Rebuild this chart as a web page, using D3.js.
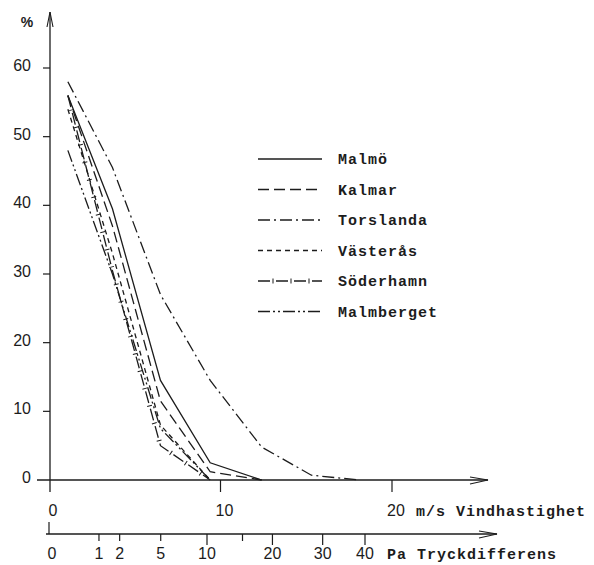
<!DOCTYPE html>
<meta charset="utf-8">
<head>
<style>
  body { margin: 0; background: #fff; }
  text { fill: #1c1c1c; }
  .num { font-family: 'Liberation Sans', Arial, sans-serif; font-size: 16px; }
  .mono { font-family: 'Liberation Mono', monospace; font-size: 15px; font-weight: bold; letter-spacing: 1px; }
</style>
</head>
<body>
<div id="chart"></div>
<script src="https://cdn.jsdelivr.net/npm/d3@7"></script>
<script>

// wind speed (m/s) where the curves break
var windSpeed = [1.1, 3.7, 6.5, 9.4, 12.4, 15.3, 18.1];

// share of time (%) per station
var malmo      = [56, 39.5, 14.5, 2.5, 0];
var kalmar     = [56, 37, 11.5, 1.2, 0];
var torslanda  = [58, 45.5, 27, 14.5, 4.8, 0.7, 0];
var vasteras   = [54, 33, 8, 0];
var soderhamn  = [56, 30.5, 5, 0];
var malmberget = [48, 30, 7.5, 0];

var stations = ["Malmö", "Kalmar", "Torslanda", "Västerås", "Söderhamn", "Malmberget"];
var stationValues = [malmo, kalmar, torslanda, vasteras, soderhamn, malmberget];
var dashes = ["none", "11,5", "12,4,2,4", "5,4", "12,6", "12,3,2,3,2,3"];

var yTicks = [0, 10, 20, 30, 40, 50, 60];
var windTicks = [0, 10, 20];
var pressureTicks = [0, 1, 2, 5, 10, 15, 20, 30, 40];
var pressureLabels = ["0", "1", "2", "5", "10", "", "20", "30", "40"];

var width = 594, height = 565;

var svg = d3.select("#chart")
  .append("svg")
    .attr("width", width)
    .attr("height", height);

// scales
var x = d3.scaleLinear().domain([0, 20]).range([49, 392]);
var y = d3.scaleLinear().domain([0, 60]).range([480, 68]);
// pressure difference grows with the square of wind speed
var xp = d3.scaleSqrt().domain([0, 40]).range([49, 365]);

var ink = "#1c1c1c";

// y axis + arrow
svg.append("line")
  .attr("x1", 50).attr("x2", 50)
  .attr("y1", 492).attr("y2", 12)
  .attr("stroke", ink).attr("stroke-width", 1.3);
svg.append("path")
  .attr("d", "M47,27 L50,12 L53,27")
  .attr("fill", "none").attr("stroke", ink).attr("stroke-width", 1.1);

svg.selectAll(".ytick")
  .data(yTicks.filter(function(d) { return d > 0; }))
  .enter().append("line")
    .attr("x1", 43).attr("x2", 50)
    .attr("y1", function(d) { return y(d); })
    .attr("y2", function(d) { return y(d); })
    .attr("stroke", ink).attr("stroke-width", 1.2);

svg.selectAll(".ylab")
  .data(yTicks)
  .enter().append("text")
    .attr("class", "num")
    .attr("x", 31)
    .attr("y", function(d) { return y(d) + 3; })
    .attr("text-anchor", "end")
    .text(function(d) { return d; });

svg.append("text")
  .attr("x", 27).attr("y", 27)
  .attr("text-anchor", "middle")
  .style("font-family", "'Liberation Sans', sans-serif")
  .style("font-size", "14px")
  .style("font-weight", "bold")
  .text("%");

// wind speed axis
svg.append("line")
  .attr("x1", 37).attr("x2", 488)
  .attr("y1", y(0)).attr("y2", y(0))
  .attr("stroke", ink).attr("stroke-width", 1.3);
svg.append("path")
  .attr("d", "M470,477 L488,480 L470,484")
  .attr("fill", "none").attr("stroke", ink).attr("stroke-width", 1.1);

svg.selectAll(".xtick")
  .data(windTicks.filter(function(d) { return d > 0; }))
  .enter().append("line")
    .attr("x1", function(d) { return x(d); })
    .attr("x2", function(d) { return x(d); })
    .attr("y1", y(0)).attr("y2", y(0) + 12)
    .attr("stroke", ink).attr("stroke-width", 1.2);

svg.selectAll(".xlab")
  .data(windTicks)
  .enter().append("text")
    .attr("class", "num")
    .attr("x", function(d) { return x(d) + 4; })
    .attr("y", 516)
    .attr("text-anchor", "middle")
    .text(function(d) { return d; });

svg.append("text")
  .attr("class", "mono")
  .attr("x", x(20) + 24).attr("y", 516)
  .text("m/s Vindhastighet");

// pressure difference axis
var py = 534;
svg.append("line")
  .attr("x1", 46).attr("x2", 497)
  .attr("y1", py).attr("y2", py)
  .attr("stroke", ink).attr("stroke-width", 1.3);
svg.append("path")
  .attr("d", "M479," + (py - 3) + " L497," + py + " L479," + (py + 4))
  .attr("fill", "none").attr("stroke", ink).attr("stroke-width", 1.1);

svg.append("line")
  .attr("x1", xp(0)).attr("x2", xp(0))
  .attr("y1", py - 12).attr("y2", py)
  .attr("stroke", ink).attr("stroke-width", 1.2);

svg.selectAll(".ptick")
  .data(pressureTicks.filter(function(d) { return d > 0; }))
  .enter().append("line")
    .attr("x1", function(d) { return xp(d); })
    .attr("x2", function(d) { return xp(d); })
    .attr("y1", py)
    .attr("y2", function(d) { return d >= 10 && d != 15 ? py + 11 : py + 7; })
    .attr("stroke", ink).attr("stroke-width", 1.2);

svg.selectAll(".plab")
  .data(pressureTicks)
  .enter().append("text")
    .attr("class", "num")
    .attr("x", function(d) { return xp(d) + (d == 0 ? 3 : 0); })
    .attr("y", 559)
    .attr("text-anchor", "middle")
    .text(function(d, i) { return pressureLabels[i]; });

svg.append("text")
  .attr("class", "mono")
  .attr("x", 387).attr("y", 559)
  .text("Pa Tryckdifferens");

// curves
var line = d3.line()
  .x(function(d) { return x(d[0]); })
  .y(function(d) { return y(d[1]); });

stationValues.forEach(function(vals, i) {
  var pts = vals.map(function(v, j) { return [windSpeed[j], v]; });
  svg.append("path")
    .datum(pts)
    .attr("d", line)
    .attr("fill", "none")
    .attr("stroke", ink)
    .attr("stroke-width", 1.3)
    .attr("stroke-dasharray", dashes[i]);
  if (stations[i] == "Söderhamn") {
    // small cross ticks in the gaps
    svg.append("path")
      .datum(pts)
      .attr("d", line)
      .attr("fill", "none")
      .attr("stroke", ink)
      .attr("stroke-width", 5)
      .attr("stroke-dasharray", "0,14.5,1,2.5");
  }
});

// legend
var legend = svg.selectAll(".legend")
  .data(stations)
  .enter().append("g")
    .attr("transform", function(d, i) { return "translate(258," + (159 + i * 30.5) + ")"; });

legend.append("line")
  .attr("x1", 0).attr("x2", 64)
  .attr("y1", 0).attr("y2", 0)
  .attr("stroke", ink)
  .attr("stroke-width", 1.3)
  .attr("stroke-dasharray", function(d, i) { return dashes[i]; });

legend.filter(function(d) { return d == "Söderhamn"; })
  .append("line")
    .attr("x1", 0).attr("x2", 64)
    .attr("y1", 0).attr("y2", 0)
    .attr("stroke", ink)
    .attr("stroke-width", 5)
    .attr("stroke-dasharray", "0,14.5,1,2.5");

legend.append("text")
  .attr("class", "mono")
  .attr("x", 80)
  .attr("y", 5)
  .text(function(d) { return d; });

</script>
</body>
